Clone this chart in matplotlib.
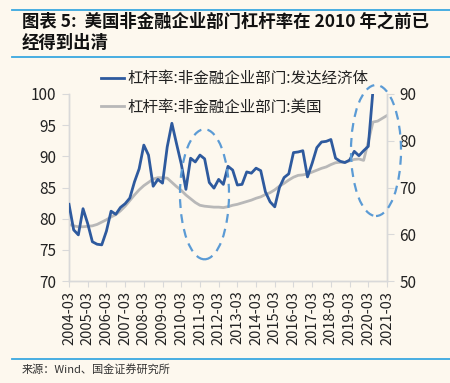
import matplotlib
matplotlib.use("Agg")
import matplotlib.pyplot as plt
from matplotlib.patches import Ellipse
from matplotlib.lines import Line2D

plt.rcParams['font.family'] = ['Noto Sans CJK SC', 'DejaVu Sans']

# ---- data (quarterly, 2004-03 ... 2021-03) ----
years = list(range(2004, 2022))
quarters = [f"{y}-{m:02d}" for y in years for m in (3, 6, 9, 12)][:69]

developed = [82.3, 78.2, 77.4, 81.6, 79.2, 76.3, 75.9, 75.8, 78.0, 81.2,
             80.7, 81.8, 82.4, 83.3, 85.9, 88.0, 91.8, 90.2, 85.2, 86.3,
             85.7, 91.5, 95.3, 92.0, 88.8, 84.7, 89.7, 89.1, 90.2, 89.6,
             85.8, 84.9, 86.3, 85.5, 88.4, 87.8, 85.4, 85.5, 87.5, 87.3,
             88.1, 87.7, 84.3, 82.7, 81.9, 85.0, 86.6, 87.2, 90.6, 90.7,
             90.9, 86.7, 88.9, 91.4, 92.3, 92.4, 92.7, 89.7, 89.2, 89.0,
             89.4, 90.8, 90.1, 90.9, 91.6, 100.6]

usa = [62.1, 61.8, 61.6, 61.6, 61.7, 61.8, 62.1, 62.6, 63.1, 63.7,
       64.2, 65.0, 66.0, 67.2, 68.4, 69.5, 70.4, 71.1, 71.8, 72.1,
       72.1, 72.0, 71.1, 70.2, 69.4, 68.4, 67.6, 66.8, 66.2, 66.0,
       65.9, 65.8, 65.8, 65.7, 65.9, 66.2, 66.4, 66.7, 67.0, 67.3,
       67.7, 68.0, 68.5, 68.9, 69.5, 70.3, 70.9, 71.6, 72.2, 72.6,
       72.7, 72.9, 73.3, 73.7, 74.1, 74.4, 74.9, 75.3, 75.4, 75.4,
       75.7, 76.0, 76.1, 75.8, 79.8, 84.0, 84.2, 84.8, 85.4]

label_dev = "杠杆率:非金融企业部门:发达经济体"
label_us = "杠杆率:非金融企业部门:美国"
left_ticks = [70, 75, 80, 85, 90, 95, 100]
right_ticks = [50, 60, 70, 80, 90]
year_tick_labels = [f"{y}-03" for y in years]

BG = "#FDF8EE"
BLUE = "#2E5A9E"
GREY = "#B8B8B8"
AXC = "#D9D9D9"
RULE = "#3AA8E0"
ELL = "#5B9BD5"

W, H = 450, 383
fig = plt.figure(figsize=(4.5, 3.83), dpi=100, facecolor=BG)

def fx(px):
    return px / W

def fy(py):
    return 1 - py / H

ax = fig.add_axes([fx(69), fy(281), fx(387) - fx(69), fy(94) - fy(281)])
ax.set_facecolor(BG)
ax2 = ax.twinx()

x_dev = list(range(len(developed)))
x_us = list(range(len(usa)))
ax.plot(x_dev, developed, color=BLUE, lw=2.0, solid_joinstyle='round', zorder=3)
ax2.plot(x_us, usa, color=GREY, lw=2.0, solid_joinstyle='round', zorder=2)
ax.set_zorder(ax2.get_zorder() + 1)
ax.patch.set_visible(False)
ax2.patch.set_visible(True)
ax2.patch.set_facecolor(BG)

ax.set_xlim(0, len(usa) - 1)
ax.set_ylim(70, 100)
ax2.set_ylim(50, 90)
ax.set_yticks(left_ticks)
ax2.set_yticks(right_ticks)
ax.set_xticks(list(range(0, len(usa), 4)))
ax.set_xticklabels(year_tick_labels, rotation=90, fontsize=10.5, color="#222222")

for a in (ax, ax2):
    for s in a.spines.values():
        s.set_color(AXC)
        s.set_linewidth(1.0)
    a.spines['top'].set_visible(False)
ax.tick_params(axis='y', length=5, color=AXC, labelsize=11, labelcolor="#222222", pad=4)
ax2.tick_params(axis='y', length=5, color=AXC, labelsize=11, labelcolor="#222222", pad=4)
ax.tick_params(axis='x', length=4, color=AXC, pad=3)

# legend
handles = [Line2D([], [], color=BLUE, lw=2.0), Line2D([], [], color=GREY, lw=2.0)]
fig.legend(handles, [label_dev, label_us], loc='upper left',
           bbox_to_anchor=(fx(101), fy(70)), frameon=False, fontsize=11.2,
           handlelength=1.5, handletextpad=0.2, labelspacing=0.75,
           borderpad=0, borderaxespad=0, labelcolor="#222222")

# dashed ellipses
for cx, cy, w, h in [(204.5, 194.3, 49, 130), (376, 150.5, 50, 131)]:
    e = Ellipse((fx(cx), fy(cy)), fx(w), h / H, transform=fig.transFigure,
                fill=False, edgecolor=ELL, lw=1.6, linestyle=(0, (4, 2.8)),
                clip_on=False, zorder=10)
    fig.add_artist(e)

# rules
for py in (10, 57, 359):
    fig.add_artist(Line2D([fx(12), 1.0], [fy(py), fy(py)], color=RULE, lw=1.3,
                          transform=fig.transFigure))

# title
fig.text(fx(22), fy(21.7), "图表 5:  美国非金融企业部门杠杆率在 2010 年之前已",
         fontsize=12.5, fontweight='bold', va='center', ha='left', color="#111111")
fig.text(fx(22), fy(43.3), "经得到出清",
         fontsize=12.5, fontweight='bold', va='center', ha='left', color="#111111")

# source
fig.text(fx(22), fy(369), "来源：Wind、国金证券研究所", fontsize=8, va='center',
         ha='left', color="#333333")

fig.savefig("out.png", dpi=100, facecolor=BG)
